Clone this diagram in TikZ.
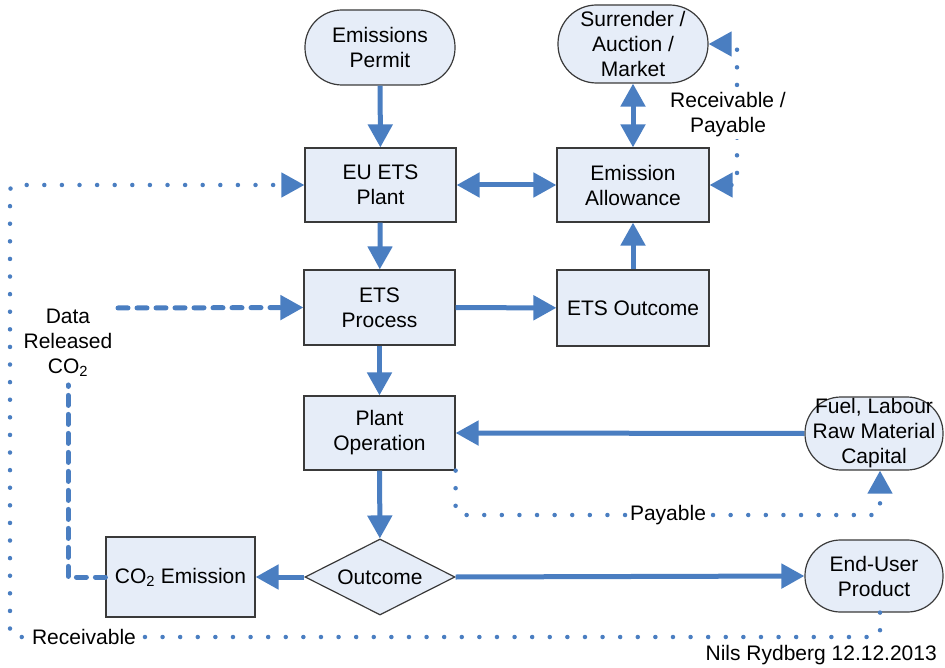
\documentclass[tikz,border=0pt]{standalone}
\usepackage{fontspec}
\setmainfont{Liberation Sans}
\usetikzlibrary{arrows.meta,shapes.geometric,calc}
\definecolor{flow}{HTML}{4A7EC1}
\definecolor{boxfill}{HTML}{E6EDF8}
\definecolor{boxline}{HTML}{3A3A3A}
\begin{document}
\begin{tikzpicture}[x=1pt,y=1pt,
  every node/.style={font=\fontsize{21}{25}\selectfont, align=center, inner sep=0pt},
  box/.style={draw=boxline, line width=1.2pt, fill=boxfill, minimum width=151pt, minimum height=75pt},
  term/.style={box, rounded corners=#1},
  dec/.style={draw=boxline, line width=1.2pt, fill=boxfill, diamond, aspect=2, minimum width=150pt, minimum height=76pt},
  tip/.tip={Triangle[length=23pt,width=24pt]},
  flowarrow/.style={draw=flow, line width=5pt, -tip},
  twoway/.style={draw=flow, line width=5pt, tip-tip},
  dots/.style={draw=flow, line width=4.5pt, line cap=round, dash pattern=on 0pt off 17.6pt},
  dashline/.style={draw=flow, line width=5pt, line cap=round, dash pattern=on 10pt off 9pt},
  lbl/.style={fill=white, inner sep=2pt}
]
\useasboundingbox (0,0) rectangle (945,-668);

% nodes
\node[term=37pt, minimum width=150pt, minimum height=75pt] (ep) at (380,-47.5) {Emissions\\Permit};
\node[term=38.5pt, minimum width=150pt, minimum height=78pt] (sam) at (633,-44) {Surrender /\\Auction /\\Market};
\node[box, minimum height=74pt] (eu) at (380.5,-185) {EU ETS\\Plant};
\node[box, minimum width=152pt, minimum height=74pt] (ea) at (633,-185) {Emission\\Allowance};
\node[box] (etsp) at (379.5,-307.5) {ETS\\Process};
\node[box, minimum width=152pt, minimum height=76pt] (eo) at (633,-308) {ETS Outcome};
\node[box, minimum height=74pt] (po) at (379.5,-433) {Plant\\Operation};
\node[term=36pt, minimum width=138pt, minimum height=73pt] (fuel) at (874,-433.5) {Fuel, Labour\\Raw Material\\Capital};
\node[dec] (out) at (380,-577) {Outcome};
\node[box, minimum width=149pt, minimum height=80pt] (co2) at (180.5,-577) {CO\textsubscript{2} Emission};
\node[term=35.5pt, minimum width=138pt, minimum height=72pt] (end) at (874,-576) {End-User\\Product};

% solid flows
\draw[flowarrow] (ep) -- (eu);
\draw[twoway] (eu) -- (ea);
\draw[twoway] (ea) -- (sam);
\draw[flowarrow] (eo) -- (ea);
\draw[flowarrow] (eu) -- (etsp);
\draw[flowarrow] (etsp) -- (eo);
\draw[flowarrow] (etsp) -- (po);
\draw[flowarrow] (fuel.west) -- (po.east);
\draw[flowarrow] (po) -- (out);
\draw[flowarrow] (out.west) -- (co2.east);
\draw[flowarrow] (out.east) -- (end.west);

% dotted money flows
\coordinate (fuelin) at ($(fuel.south)+(6,0)$);
\coordinate (payturn) at (880,-515);
\draw[dots, -tip, rounded corners=6pt] (po.south east) |- (payturn) -- (fuelin);

\coordinate (endout) at ($(end.south)+(6,0)$);
\coordinate (rb) at (880,-637);
\coordinate (lb) at (10,-637);
\coordinate (lt) at (10,-185);
\draw[dots, -tip, rounded corners=6pt] (endout) -- (rb) -- (lb) -- (lt) -- (eu.west);

\coordinate (rpb) at (737,-185);
\coordinate (rpt) at (737,-44);
\draw[dots, tip-tip] (ea.east) -- (rpb) -- (rpt) -- (sam.east);

% dashed data flow
\node[lbl] (data) at (68,-343) {Data\\Released\\CO\textsubscript{2}};
\coordinate (dstart) at (118,-308);
\draw[dashline] (co2.west) -| ([yshift=-6pt]data.south);
\draw[dashline, -tip] (dstart) -- (etsp.west);

% labels
\node[lbl] at (728,-115) {Receivable /\\Payable};
\node[lbl] at (668,-515) {Payable};
\node[lbl] at (84,-637) {Receivable};
\node[anchor=east] (sig) at (937,-655) {Nils Rydberg 12.12.2013};
\end{tikzpicture}
\end{document}
